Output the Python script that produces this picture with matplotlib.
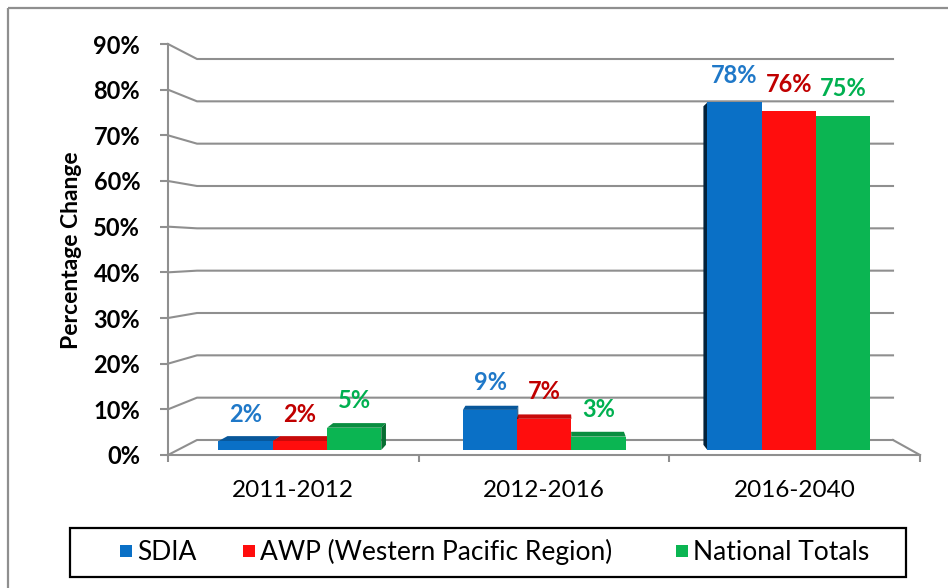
import matplotlib
matplotlib.use("Agg")  # no display available
import matplotlib.pyplot as plt
from matplotlib.patches import Polygon, Rectangle
import numpy as np

plt.rcParams['font.family'] = ['Lato', 'DejaVu Sans']

# Data
periods = ["2011-2012", "2012-2016", "2016-2040"]
series_names = ["SDIA", "AWP (Western Pacific Region)", "National Totals"]
sdia = [2, 9, 78]
awp = [2, 7, 76]
national = [5, 3, 75]
y_ticks = [0, 10, 20, 30, 40, 50, 60, 70, 80, 90]

bar_colors = ['#0A70C6', '#FF0D0D', '#0BB552']
label_colors = ['#1F78C8', '#C00000', '#00B050']
grid_color = '#8f8f8f'

W, H = 948, 588
fig = plt.figure(figsize=(W / 100, H / 100), dpi=100)

# pseudo-3D box in pixels (y from the top): front plane and back wall
FRONT = dict(x0=168, x1=920, y0=455, y1=44)
BACK = dict(x0=197, x1=893, y0=440, y1=59)
VMAX = 90
D_FRONT, D_BACK = 1 / 3, 0.68   # depth of the bar faces (0 = front, 1 = back wall)


def proj(u, v, d):
    """u: 0..1 across the category axis, v: value in %, d: depth 0..1."""
    fx = FRONT['x0'] + (FRONT['x1'] - FRONT['x0']) * u
    bx = BACK['x0'] + (BACK['x1'] - BACK['x0']) * u
    fy = FRONT['y0'] + (FRONT['y1'] - FRONT['y0']) * v / VMAX
    by = BACK['y0'] + (BACK['y1'] - BACK['y0']) * v / VMAX
    return fx + (bx - fx) * d, fy + (by - fy) * d


def frac(x0, y_bottom, x1, y_top):
    return [x0 / W, 1 - y_bottom / H, (x1 - x0) / W, (y_bottom - y_top) / H]


# background layer in pixel coordinates
bg = fig.add_axes([0, 0, 1, 1], zorder=0)
bg.set_xlim(0, W)
bg.set_ylim(H, 0)
bg.axis('off')

# outer frame
bg.plot([8, W], [8, 8], color=grid_color, lw=1.6, solid_capstyle='butt')
bg.plot([8, 8], [8, H], color=grid_color, lw=1.6, solid_capstyle='butt')

# gridlines: short diagonal on the side wall, then along the back wall
for t in y_ticks:
    fx, fy = proj(0, t, 0)
    bx, by = proj(0, t, 1)
    ex, ey = proj(1, t, 1)
    bg.plot([fx, bx, ex], [fy, by, ey], color=grid_color, lw=1.5, zorder=2)
# floor edge on the right
bx, by = proj(1, 0, 1)
fx, fy = proj(1, 0, 0)
bg.plot([bx, fx], [by, fy], color=grid_color, lw=1.5, zorder=2)

# front plane axes: value axis, category labels
axf = fig.add_axes(frac(FRONT['x0'], FRONT['y0'], FRONT['x1'], FRONT['y1']), zorder=1)
axf.patch.set_visible(False)
axf.set_xlim(-0.5, len(periods) - 0.5)
axf.set_ylim(0, VMAX)
for side in ['top', 'right']:
    axf.spines[side].set_visible(False)
for side in ['left', 'bottom']:
    axf.spines[side].set_color(grid_color)
    axf.spines[side].set_linewidth(1.5)
axf.set_yticks(y_ticks)
axf.set_yticklabels([f"{t}%" for t in y_ticks], fontsize=17, fontweight='bold')
axf.tick_params(axis='y', direction='out', length=6, width=1.5, color=grid_color, pad=14)
axf.set_xticks(range(len(periods)))
axf.set_xticklabels(periods, fontsize=17.5)
axf.tick_params(axis='x', which='major', length=0, pad=18)
axf.set_xticks(np.arange(-0.5, len(periods)), minor=True)
axf.tick_params(axis='x', which='minor', direction='out', length=5, width=1.5, color=grid_color)

# bar plane axes
left, bottom = proj(0, 0, D_FRONT)
right, top = proj(1, VMAX, D_FRONT)
ax = fig.add_axes(frac(left, bottom, right, top), zorder=2)
ax.patch.set_visible(False)
ax.set_xlim(-0.5, len(periods) - 0.5)
ax.set_ylim(0, VMAX)
ax.axis('off')

x = np.arange(len(periods))
width = 0.222
series = [sdia, awp, national]
n_cat = len(periods)


def shade(color, k):
    rgb = np.array(matplotlib.colors.to_rgb(color))
    return tuple(rgb * k)


for i, (vals, col, lcol) in enumerate(zip(series, bar_colors, label_colors)):
    bars = ax.bar(x + (i - 1) * width, vals, width, color=col, linewidth=0)
    for rect, v in zip(bars, vals):
        x0 = rect.get_x()
        x1 = x0 + rect.get_width()
        u0 = (x0 + 0.5) / n_cat
        u1 = (x1 + 0.5) / n_cat
        # top face, seen only for bars below eye level
        if proj(u0, v, D_BACK)[1] < proj(u0, v, D_FRONT)[1]:
            pts = [proj(u0, v, D_FRONT), proj(u1, v, D_FRONT),
                   proj(u1, v, D_BACK), proj(u0, v, D_BACK)]
            bg.add_patch(Polygon(pts, closed=True, color=shade(col, 0.78), lw=0, zorder=3))
        # side face toward the centre of the view
        if proj(u1, 0, D_BACK)[0] > proj(u1, 0, D_FRONT)[0]:
            ue, k = u1, 0.6
        else:
            ue, k = u0, 0.3
        pts = [proj(ue, 0, D_FRONT), proj(ue, v, D_FRONT),
               proj(ue, v, D_BACK), proj(ue, 0, D_BACK)]
        bg.add_patch(Polygon(pts, closed=True, color=shade(col, k), lw=0, zorder=3))
        ax.annotate(f"{v}%", (rect.get_x() + rect.get_width() / 2, v),
                    xytext=(0, 19.5), textcoords='offset points',
                    ha='center', va='center', fontsize=17, fontweight='bold',
                    color=lcol)

# axis title
bg.text(72, 250, "Percentage Change", rotation=90, ha='center', va='center',
        fontsize=16.5, fontweight='bold')

# legend box
bg.add_patch(Rectangle((70, 528), 836, 49, fill=False, edgecolor='black', lw=1.6, zorder=4))
for name, col, sx in zip(series_names, bar_colors, [120, 243, 676]):
    bg.add_patch(Rectangle((sx, 545), 12, 12, color=col, lw=0, zorder=4))
    bg.text(sx + 17, 552, name, ha='left', va='center', fontsize=19, zorder=4)

fig.savefig("out.png", dpi=100)
